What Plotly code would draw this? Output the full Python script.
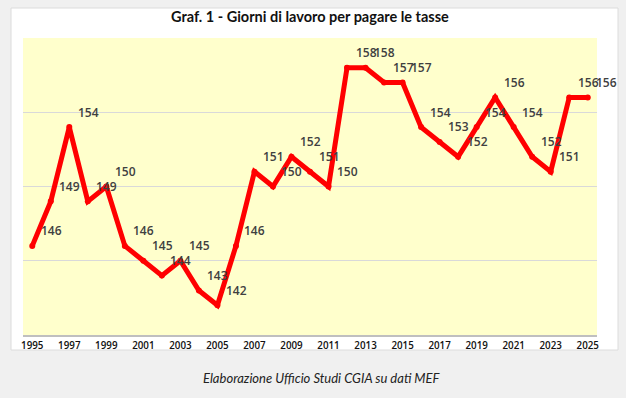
import plotly.graph_objects as go

years = list(range(1995, 2026))
giorni = [146, 149, 154, 149, 150, 146, 145, 144, 145, 143, 142, 146, 151, 150, 152, 151,
          150, 158, 158, 157, 157, 154, 153, 152, 154, 156, 154, 152, 151, 156, 156]
tick_years = list(range(1995, 2026, 2))

title_text = "Graf. 1 - Giorni di lavoro per pagare le tasse"
caption_text = "Elaborazione Ufficio Studi CGIA su dati MEF"

W, H = 626, 398
ml, mr, mt, mb = 23, 29, 38, 63
pw, ph = W - ml - mr, H - mt - mb

def px_x(px):
    return (px - ml) / pw

def px_y(py):
    return (H - mb - py) / ph

fig = go.Figure()
fig.add_trace(go.Scatter(
    x=years, y=giorni, mode="lines+markers",
    line=dict(color="#ff0000", width=5),
    marker=dict(color="#ff0000", size=6, symbol="circle"),
    hoverinfo="x+y", showlegend=False, cliponaxis=False,
))

annotations = []
for x, y in zip(years, giorni):
    annotations.append(dict(
        x=x, y=y, xref="x", yref="y", text=str(y), showarrow=False,
        xshift=19, yshift=15,
        font=dict(family="Open Sans", size=12, color="#404040", weight=600),
    ))
annotations.append(dict(
    x=px_x(310), y=px_y(17), xref="paper", yref="paper", text="<b>" + title_text + "</b>",
    showarrow=False, font=dict(family="Lato", size=14.5, color="#111111"),
    xanchor="center", yanchor="middle",
))
annotations.append(dict(
    x=px_x(322), y=px_y(378), xref="paper", yref="paper", text="<i>" + caption_text + "</i>",
    showarrow=False, font=dict(family="Lato", size=13, color="#222222"),
    xanchor="center", yanchor="middle",
))

shapes = [
    dict(type="rect", xref="paper", yref="paper", layer="below",
         x0=px_x(11), x1=px_x(618), y0=px_y(350), y1=px_y(8),
         fillcolor="#ffffff", line=dict(color="#dcdcdc", width=1)),
    dict(type="rect", xref="paper", yref="paper", layer="below",
         x0=0, x1=1, y0=0, y1=1,
         fillcolor="#ffffcc", line=dict(width=0)),
]

fig.update_layout(
    width=W, height=H,
    margin=dict(l=ml, r=mr, t=mt, b=mb, pad=0),
    paper_bgcolor="#f0f0f0",
    plot_bgcolor="rgba(0,0,0,0)",
    annotations=annotations,
    shapes=shapes,
    xaxis=dict(
        range=[1994.5, 2025.5], tickmode="array", tickvals=tick_years,
        ticktext=[str(t) for t in tick_years],
        showgrid=False, zeroline=False, showline=True, linecolor="#bfbfbf", linewidth=1.5,
        ticks="", tickfont=dict(family="Open Sans", size=9.8, color="#111111", weight=600),
        fixedrange=True,
    ),
    yaxis=dict(
        range=[140, 160], dtick=5, tick0=140, showticklabels=False,
        showgrid=True, gridcolor="#d9d9d9", gridwidth=1, zeroline=False, showline=False,
        ticks="", fixedrange=True,
    ),
)

fig.write_html("out.html", config={"displayModeBar": False},
               post_script="document.body.style.margin='0';document.body.style.overflow='hidden';")
